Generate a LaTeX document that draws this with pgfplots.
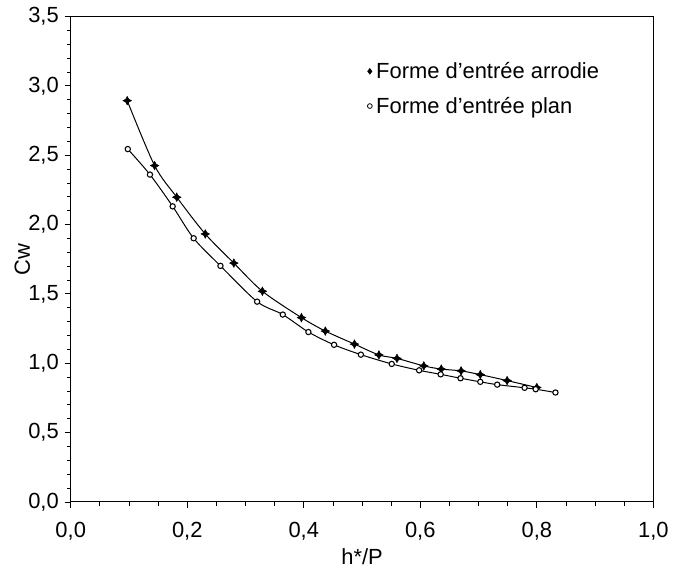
\documentclass[border=0pt]{standalone}
\usepackage{fontspec}
\setmainfont{Liberation Sans}
\usepackage{pgfplots}
\pgfplotsset{compat=1.18}

\pgfdeclareplotmark{fourstar}{%
  \pgfpathmoveto{\pgfqpoint{0pt}{\pgfplotmarksize}}%
  \pgfpathlineto{\pgfqpoint{0.35\pgfplotmarksize}{0.35\pgfplotmarksize}}%
  \pgfpathlineto{\pgfqpoint{\pgfplotmarksize}{0pt}}%
  \pgfpathlineto{\pgfqpoint{0.35\pgfplotmarksize}{-0.35\pgfplotmarksize}}%
  \pgfpathlineto{\pgfqpoint{0pt}{-\pgfplotmarksize}}%
  \pgfpathlineto{\pgfqpoint{-0.35\pgfplotmarksize}{-0.35\pgfplotmarksize}}%
  \pgfpathlineto{\pgfqpoint{-\pgfplotmarksize}{0pt}}%
  \pgfpathlineto{\pgfqpoint{-0.35\pgfplotmarksize}{0.35\pgfplotmarksize}}%
  \pgfpathclose
  \pgfusepathqfillstroke
}

\begin{document}
\begin{tikzpicture}[font=\fontsize{16.5}{19}\selectfont]
\begin{axis}[
  width=438.75pt, height=365.6pt, scale only axis,
  xmin=0, xmax=1, ymin=0, ymax=3.5,
  xtick={0,0.2,0.4,0.6,0.8,1.0},
  ytick={0,0.5,1.0,1.5,2.0,2.5,3.0,3.5},
  minor x tick num=3, minor y tick num=4,
  tick align=outside, tick pos=left,
  major tick length=4.5pt, minor tick length=3pt,
  every tick/.style={black, line width=0.6pt},
  axis line style={line width=0.75pt},
  /pgf/number format/.cd, use comma, fixed, fixed zerofill, precision=1, assume math mode=true,
  /pgfplots/.cd,
  tick label style={font=\fontsize{16.5}{19}\selectfont},
  label style={font=\fontsize{16.5}{19}\selectfont},
  xticklabel style={yshift=-7pt},
  yticklabel style={xshift=-1pt},
  xlabel={h*/P}, ylabel={Cw},
  xlabel style={at={(axis description cs:0.5,-0.112)}, anchor=center},
  ylabel style={at={(axis description cs:-0.083,0.5)}, anchor=center},
  legend style={draw=none, fill=none, at={(axis cs:0.502,3.21)}, anchor=north west,
    row sep=8.5pt, font=\fontsize{16.5}{19}\selectfont,
    nodes={inner xsep=3pt}},
  legend cell align=left,
]
% arrondie (filled star)
\addplot[black, line width=0.75pt, smooth, tension=0.5, forget plot] coordinates {
(0.097,2.893) (0.144,2.425) (0.182,2.197) (0.231,1.932) (0.280,1.722) (0.329,1.519)
(0.396,1.329) (0.437,1.232) (0.487,1.138) (0.529,1.060) (0.560,1.035) (0.606,0.981)
(0.636,0.958) (0.670,0.945) (0.703,0.918) (0.749,0.875) (0.800,0.825)};
\addplot[only marks, mark=fourstar, mark size=3.2pt, mark options={fill=black, draw=black, line width=0.4pt}, forget plot] coordinates {
(0.097,2.893) (0.144,2.425) (0.182,2.197) (0.231,1.932) (0.280,1.722) (0.329,1.519)
(0.396,1.329) (0.437,1.232) (0.487,1.138) (0.529,1.060) (0.560,1.035) (0.606,0.981)
(0.636,0.958) (0.670,0.945) (0.703,0.918) (0.749,0.875) (0.800,0.825)};
% plan (open circle)
\addplot[black, line width=0.75pt, smooth, tension=0.5, forget plot] coordinates {
(0.098,2.544) (0.136,2.360) (0.175,2.131) (0.211,1.901) (0.257,1.702) (0.320,1.444)
(0.364,1.351) (0.408,1.225) (0.452,1.133) (0.498,1.062) (0.551,0.995) (0.598,0.949)
(0.635,0.920) (0.669,0.892) (0.703,0.866) (0.732,0.846) (0.779,0.823) (0.798,0.813)
(0.832,0.789)};
\addplot[only marks, mark=*, mark size=2pt, mark options={fill=white, draw=black, line width=0.8pt}, forget plot] coordinates {
(0.098,2.544) (0.136,2.360) (0.175,2.131) (0.211,1.901) (0.257,1.702) (0.320,1.444)
(0.364,1.351) (0.408,1.225) (0.452,1.133) (0.498,1.062) (0.551,0.995) (0.598,0.949)
(0.635,0.920) (0.669,0.892) (0.703,0.866) (0.732,0.846) (0.779,0.823) (0.798,0.813)
(0.832,0.789)};
\addlegendimage{only marks, mark=diamond*, mark size=2.2pt, mark options={fill=black, draw=black}}
\addlegendentry{Forme d'entrée arrodie}
\addlegendimage{only marks, mark=*, mark size=1.8pt, mark options={fill=white, draw=black, line width=0.6pt}}
\addlegendentry{Forme d'entrée plan}
\end{axis}
\path ([shift={(-53.25pt,-51pt)}]current axis.south west) rectangle ([shift={(12.75pt,12.4pt)}]current axis.north east);
\end{tikzpicture}
\end{document}
